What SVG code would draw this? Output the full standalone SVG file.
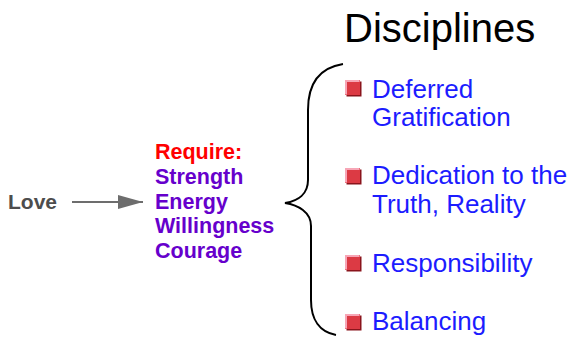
<svg xmlns="http://www.w3.org/2000/svg" width="572" height="338" viewBox="0 0 572 338">
<style>
.love{font-family:"Liberation Sans",Arial,sans-serif;font-weight:bold;font-size:21px;fill:#4d4d4d}
.req{font-family:"Liberation Sans",Arial,sans-serif;font-weight:bold;font-size:21.5px}
.item{font-family:"Liberation Sans",Arial,sans-serif;font-size:26px;fill:#1c1cff}
.title{font-family:"Liberation Sans",Arial,sans-serif;font-size:40px;fill:#000}
.bul{fill:#dc3a44}
.bulsh{fill:#8a141c}
.bulhi{fill:none;stroke:#f7a6b6;stroke-width:2}
</style>
<defs>
<marker id="ah" markerWidth="25" markerHeight="14" refX="25" refY="7" orient="auto" markerUnits="userSpaceOnUse">
<path d="M0,0 L25,7 L0,14 Z" fill="#6d6d6d"/>
</marker>
<g id="bullet">
<rect class="bulsh" x="1.5" y="1.5" width="15" height="15"/>
<rect class="bul" x="0" y="0" width="15" height="15"/>
<path class="bulhi" d="M1,14.5 V1 H14.5"/>
</g>
</defs>
<g id="title"><text class="title" x="344" y="42">Disciplines</text></g>
<g id="love"><text class="love" x="8" y="209">Love</text></g>
<g id="require">
<text class="req" x="155" y="159" fill="#ff0000">Require:</text>
<text class="req" x="155" y="184" fill="#6600cc">Strength</text>
<text class="req" x="155" y="209" fill="#6600cc">Energy</text>
<text class="req" x="155" y="233" fill="#6600cc">Willingness</text>
<text class="req" x="155" y="258" fill="#6600cc">Courage</text>
</g>
<g id="connectors">
<line x1="72" y1="202" x2="143" y2="202" stroke="#6d6d6d" stroke-width="2" marker-end="url(#ah)"/>
<path d="M343,64 C318,68 308,85 308,110 L308,180 C308,194 298,201 285,203 C298,205 311,212 311,226 L311,300 C311,320 320,332 336,335" fill="none" stroke="#000" stroke-width="2"/>
</g>
<g id="item1">
<use href="#bullet" x="345" y="80"/>
<text class="item" x="372" y="98">Deferred</text>
<text class="item" x="372" y="126">Gratification</text>
</g>
<g id="item2">
<use href="#bullet" x="345" y="168"/>
<text class="item" x="372" y="184">Dedication to the</text>
<text class="item" x="372" y="213">Truth, Reality</text>
</g>
<g id="item3">
<use href="#bullet" x="345" y="255"/>
<text class="item" x="372" y="272">Responsibility</text>
</g>
<g id="item4">
<use href="#bullet" x="345" y="314"/>
<text class="item" x="372" y="330">Balancing</text>
</g>
</svg>
